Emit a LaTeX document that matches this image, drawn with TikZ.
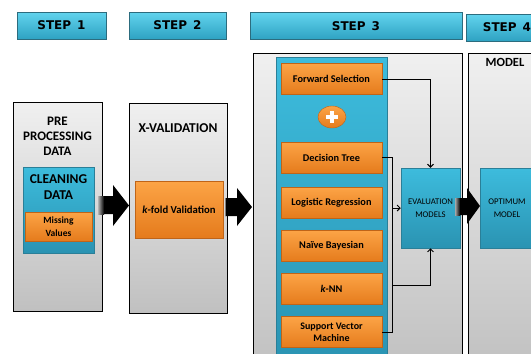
\documentclass[tikz,border=0pt]{standalone}
\usepackage{fontspec}
\setmainfont{Carlito}
\newfontfamily\stepfont{DejaVu Sans}
\usetikzlibrary{arrows.meta,shapes.geometric}
\definecolor{panelT}{HTML}{F0F0F0}
\definecolor{panelB}{HTML}{C0C0C0}
\definecolor{banT}{HTML}{62D4EE}
\definecolor{banB}{HTML}{2EA2C2}
\definecolor{banE}{HTML}{2C6C7E}
\definecolor{bluT}{HTML}{3DBCDD}
\definecolor{bluB}{HTML}{2A93B2}
\definecolor{bluE}{HTML}{2A7F98}
\definecolor{orT}{HTML}{FCA446}
\definecolor{orB}{HTML}{E57B1C}
\definecolor{orE}{HTML}{BF6418}
\tikzset{
  panel/.style={draw=black, line width=0.6pt, top color=panelT, bottom color=panelB},
  banner/.style={draw=banE, line width=0.8pt, top color=banT, bottom color=banB,
    font=\stepfont\bfseries\fontsize{12}{14}\selectfont, inner sep=0},
  bluebox/.style={draw=bluE, line width=0.5pt, top color=bluT, bottom color=bluB,
    inner sep=0, align=center},
  orangebox/.style={draw=orE, line width=0.5pt, top color=orT, bottom color=orB,
    inner sep=0, align=center, minimum width=101, minimum height=31,
    font=\bfseries\fontsize{10.3}{12}\selectfont},
  title/.style={font=\bfseries\fontsize{13}{15}\selectfont, align=center, inner sep=0},
  conn/.style={draw=black, line width=0.9pt},
  arr/.style={conn, -{Straight Barb[length=3pt,width=6pt]}},
  bigarrow/.style={fill=black}
}
\begin{document}
\begin{tikzpicture}[x=1pt,y=-1pt]
\useasboundingbox (0,0) rectangle (531,354);
\fill[white] (0,0) rectangle (531,354);

% banners
\node[banner, minimum width=89, minimum height=27] (s1) at (61.5,25.5) {STEP\hspace{6pt}1};
\node[banner, minimum width=97, minimum height=27] (s2) at (177.5,25.5) {STEP\hspace{6pt}2};
\node[banner, minimum width=212, minimum height=27] (s3) at (356,26) {STEP\hspace{6pt}3};
\node[banner, minimum width=82, minimum height=27] (s4) at (507,27.5) {STEP\hspace{6pt}4};

% panels
\node[panel, minimum width=89, minimum height=209, inner sep=0] (p1) at (57.5,206.5) {};
\node[panel, minimum width=98, minimum height=210, inner sep=0] (p2) at (178,208) {};
\node[panel, minimum width=209, minimum height=320, inner sep=0] (p3) at (357.5,213) {};
\node[panel, minimum width=80, minimum height=320, inner sep=0] (p4) at (508,213) {};

% panel 1
\node[title] (t1) at (57.5,136) {PRE\\PROCESSING\\DATA};
\node[bluebox, minimum width=71, minimum height=86] (clean) at (58.5,210) {};
\node[title, font=\bfseries\fontsize{13.5}{16}\selectfont] (tclean) at (58.5,187) {CLEANING\\DATA};
\node[orangebox, minimum width=67, minimum height=29, font=\bfseries\fontsize{9.5}{13}\selectfont] (miss) at (58.5,226.5) {Missing\\Values};

% panel 2
\node[title, font=\bfseries\fontsize{13.5}{15}\selectfont] (t2) at (178,128.5) {X-VALIDATION};
\node[orangebox, minimum width=88, minimum height=57, font=\bfseries\fontsize{10.7}{12}\selectfont] (kfold) at (179,209.5) {\textit{k}-fold Validation};

% panel 3
\node[bluebox, minimum width=111, minimum height=310] (col) at (331.5,212) {};
\node[orangebox] (fs) at (331.5,79) {Forward Selection};
\node[ellipse, draw=orE, line width=0.4pt, top color=orT, bottom color=orB, minimum width=28, minimum height=22, inner sep=0] (plus) at (332,117) {};
\fill[white] (326,115) rectangle (338,119);
\fill[white] (330,111) rectangle (334,123);
\node[orangebox] (dt) at (331.5,157.5) {Decision Tree};
\node[orangebox] (lr) at (331.5,202.5) {Logistic Regression};
\node[orangebox] (nb) at (331.5,246) {Naïve Bayesian};
\node[orangebox] (knn) at (331.5,289) {\textit{k}-NN};
\node[orangebox, font=\bfseries\fontsize{10}{12}\selectfont] (svm) at (331.5,332) {Support Vector\\Machine};

\node[bluebox, minimum width=59, minimum height=80, font=\fontsize{8.7}{13}\selectfont] (eval) at (430.5,208) {EVALUATION\\MODELS};

% panel 4
\node[title, font=\bfseries\fontsize{12.5}{14}\selectfont] (t4) at (505,62) {MODEL};
\node[bluebox, minimum width=54, minimum height=80, font=\fontsize{8.7}{13}\selectfont] (opt) at (507,208) {OPTIMUM\\MODEL};

% connectors
\coordinate (bx1) at (392,157.5);
\coordinate (bx2) at (392,332);
\coordinate (bmid) at (392,208);
\coordinate (blow) at (392,285);
\draw[arr] (fs.east) -| (eval.north);
\draw[conn] (dt.east) -- (bx1) -- (bx2) -- (svm.east);
\draw[arr] (bmid) -- (eval.west);
\draw[arr] (blow) -| (eval.south);

% big arrows
\fill[black] (98,196) -- (113,196) -- (113,185) -- (129,205.5) -- (113,226) -- (113,214) -- (98,214) -- cycle;
\shade[left color=gray!60, right color=black] (98,196) rectangle (104,214);
\fill[black] (225,198) -- (237,198) -- (237,188) -- (252,207) -- (237,226) -- (237,216) -- (225,216) -- cycle;
\fill[gray] (224.5,198) rectangle (226,216);
\fill[black] (455,198) -- (467,198) -- (467,188) -- (480,206) -- (467,224) -- (467,215) -- (455,215) -- cycle;
\shade[left color=gray!70, right color=black] (455,198) rectangle (460,215);
\end{tikzpicture}
\end{document}
